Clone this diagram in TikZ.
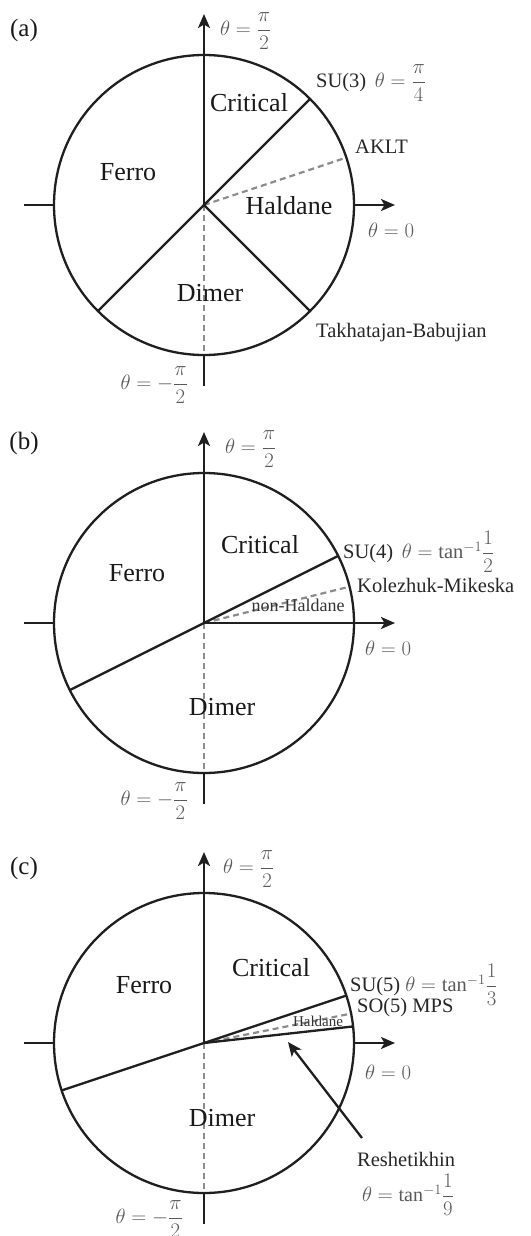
\documentclass[tikz,border=0pt]{standalone}
\usepackage{amsmath}
\usepackage{fontspec}
\setmainfont{Liberation Serif}
\usetikzlibrary{arrows.meta}
\newcommand{\gm}[1]{\textcolor{black!65}{$#1$}}
\begin{document}
\begin{tikzpicture}[x=1pt,y=1pt,
  bd/.style={line width=2.3pt, draw=black!88},
  dsh/.style={line width=2.2pt, draw=black!45, dash pattern=on 6pt off 4pt},
  axarrow/.style={bd, -{Stealth[length=14pt,width=12pt,inset=3.5pt]}},
  region/.style={inner sep=0pt, font=\fontsize{26}{30}\selectfont, text=black!90},
  lbl/.style={inner sep=0pt, font=\fontsize{20.5}{24}\selectfont, text=black!85, anchor=west},
  mlbl/.style={inner sep=0pt, font=\fontsize{20}{24}\selectfont, text=black!65},
  plbl/.style={inner sep=0pt, font=\fontsize{25}{30}\selectfont, text=black!90},
]
\useasboundingbox (0,0) rectangle (530,-1236);

% ---------------- panel (a)
\begin{scope}[shift={(204,-205)}]
  \coordinate (aO) at (0,0);
  \coordinate (aT) at (0,191);
  \coordinate (aR0) at (150,0);
  \coordinate (aR) at (191,0);
  \coordinate (aL0) at (-150,0);
  \coordinate (aL) at (-180,0);
  \coordinate (aB0) at (0,-150);
  \coordinate (aB) at (0,-181);
  \coordinate (aSU) at (45:150);
  \coordinate (aTB) at (-45:150);
  \coordinate (aFD) at (225:150);
  \coordinate (aAK) at (18.43:150);
  \draw[dsh] (aO) -- (aB0);
  \draw[dsh] (aO) -- (aAK);
  \draw[bd] (aO) circle[radius=150];
  \draw[axarrow] (aO) -- (aT);
  \draw[axarrow] (aR0) -- (aR);
  \draw[bd] (aL0) -- (aL);
  \draw[bd] (aB0) -- (aB);
  \draw[bd] (aSU) -- (aO) -- (aTB);
  \draw[bd] (aO) -- (aFD);
  \node[plbl] (alab) at (-180,175) {(a)};
  \node[mlbl, anchor=west] (atop) at (16,174) {$\theta=\dfrac{\pi}{2}$};
  \node[lbl] (asu3) at (112,122) {SU(3)\, \gm{\theta=\dfrac{\pi}{4}}};
  \node[lbl] (aaklt) at (151,58) {AKLT};
  \node[mlbl, anchor=west] (azero) at (164,-25) {$\theta=0$};
  \node[lbl] (atb) at (112,-128) {Takhatajan-Babujian};
  \node[mlbl, anchor=east] (abot) at (-16,-180) {$\theta=-\dfrac{\pi}{2}$};
  \node[region] (acrit) at (45,102) {Critical};
  \node[region] (aferro) at (-76,33) {Ferro};
  \node[region] (ahal) at (85,-1) {Haldane};
  \node[region] (adim) at (6,-88) {Dimer};
\end{scope}

% ---------------- panel (b)
\begin{scope}[shift={(204,-623)}]
  \coordinate (bO) at (0,0);
  \coordinate (bT) at (0,191);
  \coordinate (bR0) at (150,0);
  \coordinate (bR) at (191,0);
  \coordinate (bL0) at (-150,0);
  \coordinate (bL) at (-180,0);
  \coordinate (bB0) at (0,-150);
  \coordinate (bB) at (0,-181);
  \coordinate (bSU) at (26.57:150);
  \coordinate (bFD) at (206.57:150);
  \coordinate (bKM) at (14.04:150);
  \draw[dsh] (bO) -- (bB0);
  \draw[dsh] (bO) -- (bKM);
  \draw[bd] (bO) circle[radius=150];
  \draw[axarrow] (bO) -- (bT);
  \draw[axarrow] (bO) -- (bR);
  \draw[bd] (bL0) -- (bL);
  \draw[bd] (bB0) -- (bB);
  \draw[bd] (bSU) -- (bO) -- (bFD);
  \node[plbl] (blab) at (-180,180) {(b)};
  \node[mlbl, anchor=west] (btop) at (21,174) {$\theta=\dfrac{\pi}{2}$};
  \node[lbl] (bsu4) at (139,71) {SU(4)\, \gm{\theta=\tan^{-1}\!\dfrac{1}{2}}};
  \node[lbl] (bkm) at (153,38) {Kolezhuk-Mikeska};
  \node[mlbl, anchor=west] (bzero) at (161,-25) {$\theta=0$};
  \node[mlbl, anchor=east] (bbot) at (-16,-178) {$\theta=-\dfrac{\pi}{2}$};
  \node[region] (bcrit) at (56,78) {Critical};
  \node[region] (bferro) at (-67,50) {Ferro};
  \node[region] (bdim) at (18,-84) {Dimer};
  \node[inner sep=0pt, font=\fontsize{18}{20}\selectfont, text=black!80] (bnh) at (94,18) {non-Haldane};
\end{scope}

% ---------------- panel (c)
\begin{scope}[shift={(204,-1043)}]
  \coordinate (cO) at (0,0);
  \coordinate (cT) at (0,191);
  \coordinate (cR0) at (150,0);
  \coordinate (cR) at (191,0);
  \coordinate (cL0) at (-150,0);
  \coordinate (cL) at (-180,0);
  \coordinate (cB0) at (0,-150);
  \coordinate (cB) at (0,-181);
  \coordinate (cSU) at (18.43:150);
  \coordinate (cFD) at (198.43:150);
  \coordinate (cRS) at (6.34:150);
  \coordinate (cSO) at (11.31:150);
  \coordinate (cTip) at (84,1);
  \draw[dsh] (cO) -- (cB0);
  \draw[dsh] (cO) -- (cSO);
  \draw[bd] (cO) circle[radius=150];
  \draw[axarrow] (cO) -- (cT);
  \draw[axarrow] (cR0) -- (cR);
  \draw[bd] (cL0) -- (cL);
  \draw[bd] (cB0) -- (cB);
  \draw[bd] (cSU) -- (cO) -- (cFD);
  \draw[bd] (cO) -- (cRS);
  \node[plbl] (clab) at (-180,175) {(c)};
  \node[mlbl, anchor=west] (ctop) at (19,174) {$\theta=\dfrac{\pi}{2}$};
  \node[lbl] (csu5) at (146,58) {SU(5) \gm{\theta=\tan^{-1}\!\dfrac{1}{3}}};
  \node[lbl] (cso5) at (153,35) {SO(5) MPS};
  \node[mlbl, anchor=west] (czero) at (161,-29) {$\theta=0$};
  \node[lbl] (cres) at (153,-116) {Reshetikhin};
  \node[mlbl, anchor=west] (cresth) at (158,-152) {$\theta=\tan^{-1}\!\dfrac{1}{9}$};
  \node[mlbl, anchor=east] (cbot) at (-21,-176) {$\theta=-\dfrac{\pi}{2}$};
  \node[region] (ccrit) at (67,75) {Critical};
  \node[region] (cferro) at (-60,58) {Ferro};
  \node[region] (cdim) at (18,-75) {Dimer};
  \node[inner sep=0pt, font=\fontsize{15}{17}\selectfont, text=black!80] (chal) at (114,22) {Haldane};
  \draw[axarrow] ([shift={(5,21)}]cres.west) -- (cTip);
\end{scope}
\end{tikzpicture}
\end{document}
